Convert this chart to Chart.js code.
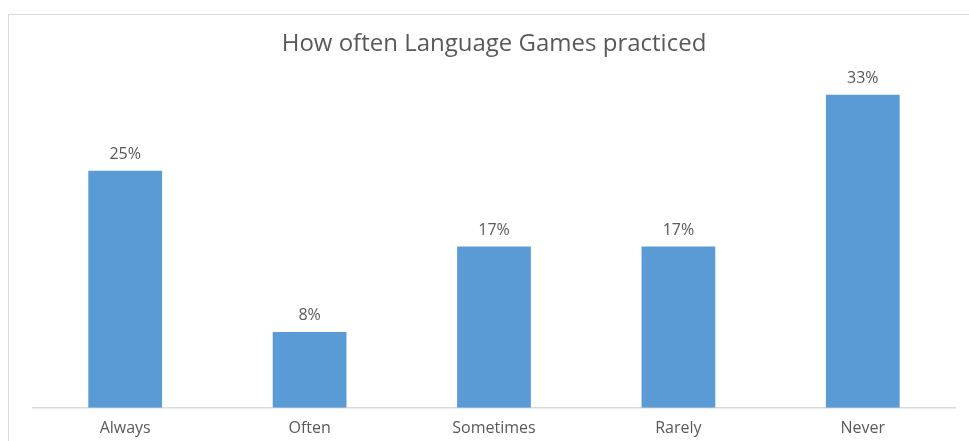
<!DOCTYPE html>
<html>
<head>
<meta charset="utf-8">
<script src="https://cdn.jsdelivr.net/npm/chart.js@4"></script>
<style>
  html, body { margin: 0; padding: 0; background: #fff; }
  #wrap { position: relative; width: 969px; height: 441px; }
  #frame {
    position: absolute; left: 8px; top: 14px; right: 0; bottom: 0;
    border-left: 1px solid #d9d9d9; border-top: 1px solid #d9d9d9;
  }
  #practice-chart { position: absolute; left: 0; top: 0; }
</style>
</head>
<body>
<div id="wrap">
  <div id="frame"></div>
  <canvas id="practice-chart" width="969" height="441"></canvas>
</div>
<script>
const chart_title = 'How often Language Games practiced';
const categories = ['Always', 'Often', 'Sometimes', 'Rarely', 'Never'];
const percents = [25, 8, 17, 17, 33];

const text_color = '#595959';
const font_family = '"Open Sans", sans-serif';

// writes the percentage above each bar
const valueLabels = {
  id: 'valueLabels',
  afterDatasetsDraw(chart) {
    const ctx = chart.ctx;
    const meta = chart.getDatasetMeta(0);
    ctx.save();
    ctx.fillStyle = text_color;
    ctx.font = '16px ' + font_family;
    ctx.textAlign = 'center';
    ctx.textBaseline = 'middle';
    meta.data.forEach((bar, i) => {
      ctx.fillText(percents[i] + '%', bar.x, bar.y - 16);
    });
    ctx.restore();
  }
};

new Chart(document.getElementById('practice-chart'), {
  type: 'bar',
  data: {
    labels: categories,
    datasets: [
      {
        label: 'Percent',
        data: percents,
        backgroundColor: '#5b9bd5',
        borderWidth: 0,
        barPercentage: 1,
        categoryPercentage: 0.4,
      },
    ],
  },
  options: {
    responsive: false,
    animation: false,
    layout: {
      padding: { left: 33, right: 14, top: 30, bottom: 0 },
    },
    plugins: {
      legend: { display: false },
      tooltip: { enabled: false },
      title: {
        display: true,
        text: chart_title,
        color: text_color,
        font: { family: font_family, size: 24, weight: 'normal' },
        padding: { top: 0, bottom: 17 },
      },
    },
    scales: {
      x: {
        grid: { display: false },
        border: { display: true, color: '#d9d9d9', width: 1.5 },
        ticks: {
          color: text_color,
          padding: 3,
          font: { family: font_family, size: 16 },
        },
      },
      y: {
        display: false,
        min: 0,
        max: 35,
      },
    },
  },
  plugins: [valueLabels],
});
</script>
</body>
</html>
